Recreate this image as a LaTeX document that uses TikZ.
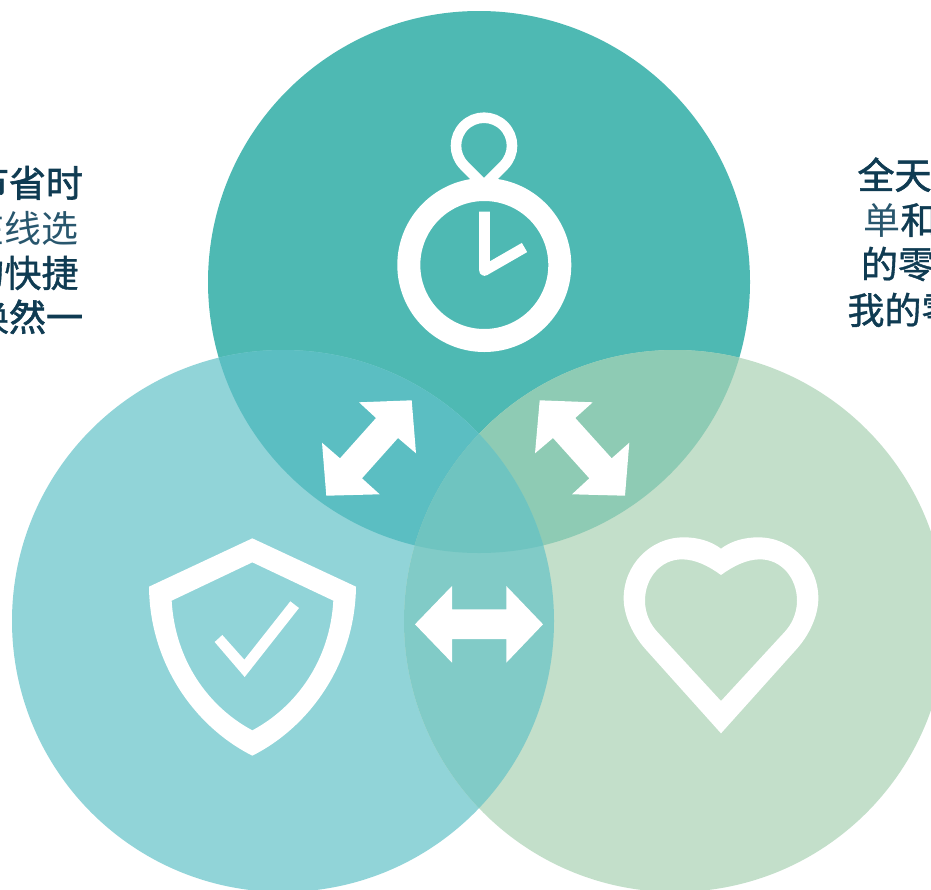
\documentclass[tikz,border=0pt]{standalone}
\usepackage{fontspec}
\newfontfamily\cjk{Noto Sans CJK SC}
\newfontfamily\cjkm[FakeBold=1.0]{Noto Sans CJK SC}
\newfontfamily\cjkb[FakeBold=1.7]{Noto Sans CJK SC}
\definecolor{ctop}{HTML}{4EB9B3}
\definecolor{cleft}{HTML}{91D4D8}
\definecolor{cright}{HTML}{C3DFCA}
\definecolor{ctl}{HTML}{5BBEC2}
\definecolor{ctr}{HTML}{8ECBB4}
\definecolor{clr}{HTML}{81CBC7}
\definecolor{cmid}{HTML}{6FC4C0}
\definecolor{ink}{HTML}{0F3B52}
\definecolor{inkl}{HTML}{28566D}
\tikzset{
  lab/.style={anchor=base west,inner sep=0pt,outer sep=0pt,text=ink,font=\fontsize{37}{37}\selectfont},
  icon/.style={fill=white,draw=none},
  iconline/.style={draw=white,fill=none},
  eo/.style={fill=white,even odd rule,draw=none}
}
\newcommand{\ctopc}{(479,282) circle[radius=271]}
\newcommand{\cleftc}{(283,621) circle[radius=271]}
\newcommand{\crightc}{(675,621) circle[radius=271]}
\begin{document}
\begin{tikzpicture}[x=1pt,y=-1pt]
\useasboundingbox (0,0) rectangle (931,889);
\clip (0,0) rectangle (931,889);
\fill[ctop] \ctopc;
\fill[cleft] \cleftc;
\fill[cright] \crightc;
\begin{scope}\clip \ctopc; \fill[ctl] \cleftc; \fill[ctr] \crightc; \end{scope}
\begin{scope}\clip \cleftc; \fill[clr] \crightc; \end{scope}
\begin{scope}\clip \ctopc; \clip \cleftc; \fill[cmid] \crightc; \end{scope}
% stopwatch
\draw[iconline,line width=23pt] (484.3,265) circle[radius=75.5];
\draw[iconline,line width=10.6pt,line join=round] (484.5,211.5) -- (484.5,270.5) -- (524.5,247.5);
\begin{scope}[yshift=-0.7pt]
\draw[iconline,line width=10.6pt] (484,184.6) -- (464.2,164.8)
  .. controls (453.27,153.87) and (453.27,136.13) .. (464.2,125.2)
  .. controls (475.13,114.27) and (492.87,114.27) .. (503.8,125.2)
  .. controls (514.73,136.13) and (514.73,153.87) .. (503.8,164.8) -- cycle;
\end{scope}
% arrows
\fill[icon] (411.7,400.3)--(416,453.3)--(398,438)--(362,478.3)--(379.7,494.3)--(326.3,495.7)--(322,442.7)--(340,458.3)--(376,418)--(359,402.3)--cycle;
\fill[icon] (539.7,400.3)--(592.7,402.3)--(575.3,418)--(611.7,458.3)--(629.3,442.7)--(625,495.7)--(572,494.3)--(589.3,478.3)--(553,438)--(535,453.3)--cycle;
\fill[icon] (415,624.3)--(452,586)--(452,609.3)--(506.3,609.3)--(506.3,586)--(543,624.3)--(506.3,662.7)--(506.3,639)--(452,639)--(452,662.7)--cycle;
% shield
\begin{scope}[shift={(140,530)},scale=0.33333]
\path[eo] (337,25)--(648,170) .. controls (645,400) and (510,590) .. (337,677)
  .. controls (164,590) and (29,400) .. (27,170)--cycle
  (337,97)--(580,212) .. controls (570,390) and (470,530) .. (337,601)
  .. controls (204,530) and (105,390) .. (95,212)--cycle;
\fill[icon] (451,214)--(477,234)--(314,441)--(224,336)--(247,315)--(313,389)--cycle;
\end{scope}
% heart
\begin{scope}[shift={(615,530)},scale=0.33333]
\path[eo] (318,56) .. controls (350,32) and (389.5,22) .. (430,22)
  .. controls (530,22) and (610,105) .. (610,205)
  .. controls (610,260) and (580,318) .. (545,357)
  -- (318,610) -- (91,357)
  .. controls (56,318) and (26,260) .. (26,205)
  .. controls (26,105) and (106,22) .. (206,22)
  .. controls (246.5,22) and (286,32) .. (318,56) -- cycle
  (318,135) .. controls (355,108) and (395,88) .. (435,88)
  .. controls (500,88) and (546,145) .. (546,212)
  .. controls (546,250) and (530,285) .. (505,310)
  -- (318,513) -- (131,310)
  .. controls (106,285) and (90,250) .. (90,212)
  .. controls (90,145) and (136,88) .. (201,88)
  .. controls (241,88) and (281,108) .. (318,135) -- cycle;
\end{scope}
% left text
\node[lab] (l1) at (-28,197) {\cjkb 节省时};
\node[lab,text=inkl] (l2) at (-32.5,242) {\cjk 在线选};
\node[lab] (l3) at (-32.5,287) {\cjkm 的快捷};
\node[lab] (l4) at (-28,331) {\cjkm 换\cjkb 然一};
% right text
\node[lab] (r1) at (857.5,189) {\cjkb 全天};
\node[lab] (r2) at (863.5,234) {\textcolor{inkl}{\cjk 单}\cjkm 和};
\node[lab] (r3) at (861,278) {\cjkm 的零};
\node[lab] (r4) at (847.5,324) {\cjkm 我的零};
\end{tikzpicture}
\end{document}
